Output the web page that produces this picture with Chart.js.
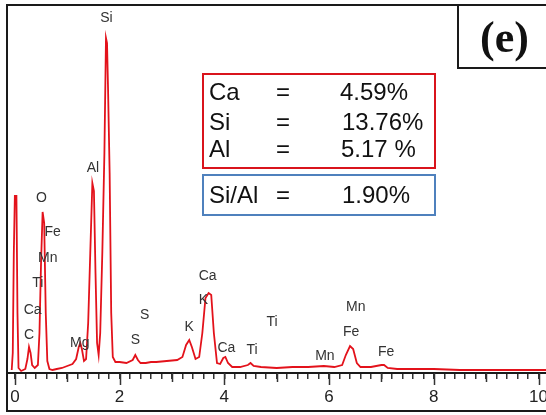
<!DOCTYPE html>
<html>
<head>
<meta charset="utf-8">
<script src="https://cdn.jsdelivr.net/npm/chart.js@4"></script>
<style>
  html, body { margin: 0; padding: 0; background: #fff; width: 546px; height: 415px; overflow: hidden; }
  #frame { position: absolute; left: 6px; top: 4px; width: 600px; height: 404px; border: 2px solid #1a1a1a; }
  #chart { position: absolute; left: 0; top: 0; }
  .box { position: absolute; box-sizing: border-box; }
  #redbox { left: 202px; top: 73px; width: 234px; height: 96px; border: 2px solid #d9141c; }
  #bluebox { left: 202px; top: 174px; width: 234px; height: 42px; border: 2px solid #4f81bd; }
  #ebox { left: 457px; top: 4px; width: 120px; height: 65px; border: 2px solid #1a1a1a; }
  .t { position: absolute; font-family: "Liberation Sans", Arial, sans-serif; font-size: 24px; line-height: 28px; color: #111; white-space: pre; }
  #elabel { position: absolute; left: 480px; top: 13px; font-family: "Liberation Serif", "Times New Roman", serif; font-weight: bold; font-size: 44px; line-height: 50px; color: #111; }
</style>
</head>
<body>
<div id="frame"></div>
<canvas id="chart" width="556" height="415"></canvas>
<div class="box" id="redbox"></div>
<div class="box" id="bluebox"></div>
<div class="box" id="ebox"></div>
<div id="elabel">(e)</div>
<div class="t" style="left:209px;top:78px">Ca</div>
<div class="t" style="left:276px;top:78px">=</div>
<div class="t" style="left:340px;top:78px">4.59%</div>
<div class="t" style="left:209px;top:108px">Si</div>
<div class="t" style="left:276px;top:108px">=</div>
<div class="t" style="left:342px;top:108px">13.76%</div>
<div class="t" style="left:209px;top:135px">Al</div>
<div class="t" style="left:276px;top:135px">=</div>
<div class="t" style="left:341px;top:135px">5.17 %</div>
<div class="t" style="left:209px;top:181px">Si/Al</div>
<div class="t" style="left:276px;top:181px">=</div>
<div class="t" style="left:342px;top:181px">1.90%</div>
<script>
// spectrum (energy in keV, counts in arbitrary units)
const energy = [
  -0.06, -0.04, -0.02, 0.0, 0.03, 0.05, 0.07, 0.12, 0.2, 0.24, 0.27, 0.3, 0.33, 0.38,
  0.44, 0.47, 0.5, 0.53, 0.56, 0.59, 0.62, 0.66, 0.72, 0.8, 0.9, 1.0, 1.1, 1.17,
  1.22, 1.25, 1.28, 1.32, 1.36, 1.4, 1.44, 1.48, 1.51, 1.54, 1.57, 1.6, 1.63, 1.67,
  1.71, 1.74, 1.76, 1.78, 1.81, 1.84, 1.87, 1.92, 2.0, 2.13, 2.25, 2.3, 2.35, 2.4,
  2.5, 2.6, 2.7, 2.9, 3.1, 3.2, 3.27, 3.33, 3.38, 3.45, 3.52, 3.58, 3.64, 3.7,
  3.75, 3.8, 3.86, 3.92, 3.98, 4.02, 4.07, 4.15, 4.3, 4.45, 4.5, 4.56, 4.7, 5.0,
  5.3, 5.6, 5.9, 6.1, 6.25, 6.32, 6.4, 6.46, 6.53, 6.6, 6.8, 7.0, 7.05, 7.12,
  7.3, 7.6, 8.0, 8.5, 9.0, 9.5, 10.0, 10.3
];
const counts = [
  3, 20, 120, 177, 177, 60, 5, 2, 4, 14, 26, 20, 8, 5,
  8, 40, 110, 161, 150, 60, 12, 4, 3, 4, 5, 7, 9, 14,
  26, 30, 24, 12, 14, 50, 120, 190, 182, 100, 30, 18, 40, 120,
  220, 335, 330, 283, 200, 60, 16, 11, 11, 10, 13, 18, 13, 10,
  10, 11, 11, 12, 13, 16, 28, 33, 26, 14, 16, 40, 75, 80,
  78, 40, 10, 9, 15, 16, 10, 6, 6, 8, 10, 7, 6, 5,
  6, 6, 7, 6, 8, 18, 27, 24, 10, 6, 6, 8, 8, 5,
  4, 4, 4, 3, 3, 3, 3, 3
];

// element labels: text and where they sit (keV, counts)
const peakNames = ["Si", "Al", "O", "Fe", "Mn", "Ti", "Ca", "C", "Mg", "S", "S", "K",
  "Ca", "K", "Ca", "Ti", "Ti", "Mn", "Mn", "Fe", "Fe"];
const peakKeV = [1.75, 1.49, 0.51, 0.72, 0.63, 0.44, 0.34, 0.27, 1.24, 2.48, 2.3, 3.33,
  3.68, 3.6, 4.04, 4.53, 4.91, 5.92, 6.51, 6.42, 7.09];
const peakY = [355, 205, 175, 141, 115, 90, 63, 38, 30, 58, 33, 46,
  97, 73, 25, 23, 51, 17, 66, 41, 21];

const tickLabels = ["0", "2", "4", "6", "8", "10"];
const labelledTicks = [0, 2, 4, 6, 8, 10];

const tickValues = [];
for (let i = 0; i <= 50; i++) tickValues.push(Math.round(i * 2) / 10);

const points = energy.map((e, i) => ({ x: e, y: counts[i] }));

const peakLabels = {
  id: "peakLabels",
  afterDatasetsDraw(chart) {
    const { ctx, scales } = chart;
    ctx.save();
    ctx.font = "14px 'Liberation Sans', Arial, sans-serif";
    ctx.fillStyle = "#333";
    ctx.textAlign = "center";
    ctx.textBaseline = "middle";
    peakNames.forEach((name, i) => {
      ctx.fillText(name, scales.x.getPixelForValue(peakKeV[i]), scales.y.getPixelForValue(peakY[i]));
    });
    ctx.restore();
  },
};

// longer ticks on whole numbers
const longTicks = {
  id: "longTicks",
  afterDraw(chart) {
    const { ctx, scales, chartArea } = chart;
    ctx.save();
    ctx.strokeStyle = "#333";
    ctx.lineWidth = 1.5;
    tickValues.forEach((v) => {
      if (Math.abs(v - Math.round(v)) > 0.001) return;
      const x = Math.round(scales.x.getPixelForValue(v)) + 0.5;
      const len = Math.round(v) % 2 === 0 ? 12 : 9;
      ctx.beginPath();
      ctx.moveTo(x, chartArea.bottom);
      ctx.lineTo(x, chartArea.bottom + len);
      ctx.stroke();
    });
    ctx.restore();
  },
};

new Chart(document.getElementById("chart"), {
  type: "line",
  data: {
    datasets: [{
      data: points,
      borderColor: "#e3121b",
      borderWidth: 1.8,
      pointRadius: 0,
      fill: false,
      tension: 0,
    }],
  },
  options: {
    responsive: false,
    animation: false,
    layout: { padding: { left: 7, right: 0, top: 15, bottom: 0 } },
    plugins: { legend: { display: false }, tooltip: { enabled: false } },
    scales: {
      x: {
        type: "linear",
        min: -0.15,
        max: 10.3,
        afterBuildTicks(scale) {
          scale.ticks = tickValues.map((v) => ({ value: v }));
        },
        afterFit(scale) {
          scale.height = 42;
        },
        border: { display: true, color: "#1a1a1a", width: 2 },
        grid: { drawOnChartArea: false, drawTicks: true, tickLength: 6, color: "#333", lineWidth: 1.5 },
        ticks: {
          autoSkip: false,
          maxRotation: 0,
          padding: 8,
          color: "#222",
          font: { family: "'Liberation Sans', Arial, sans-serif", size: 17 },
          callback(value) {
            const k = labelledTicks.findIndex((t) => Math.abs(t - value) < 0.001);
            return k >= 0 ? tickLabels[k] : "";
          },
        },
      },
      y: { display: false, min: 0, max: 358 },
    },
  },
  plugins: [peakLabels, longTicks],
});
</script>
</body>
</html>
